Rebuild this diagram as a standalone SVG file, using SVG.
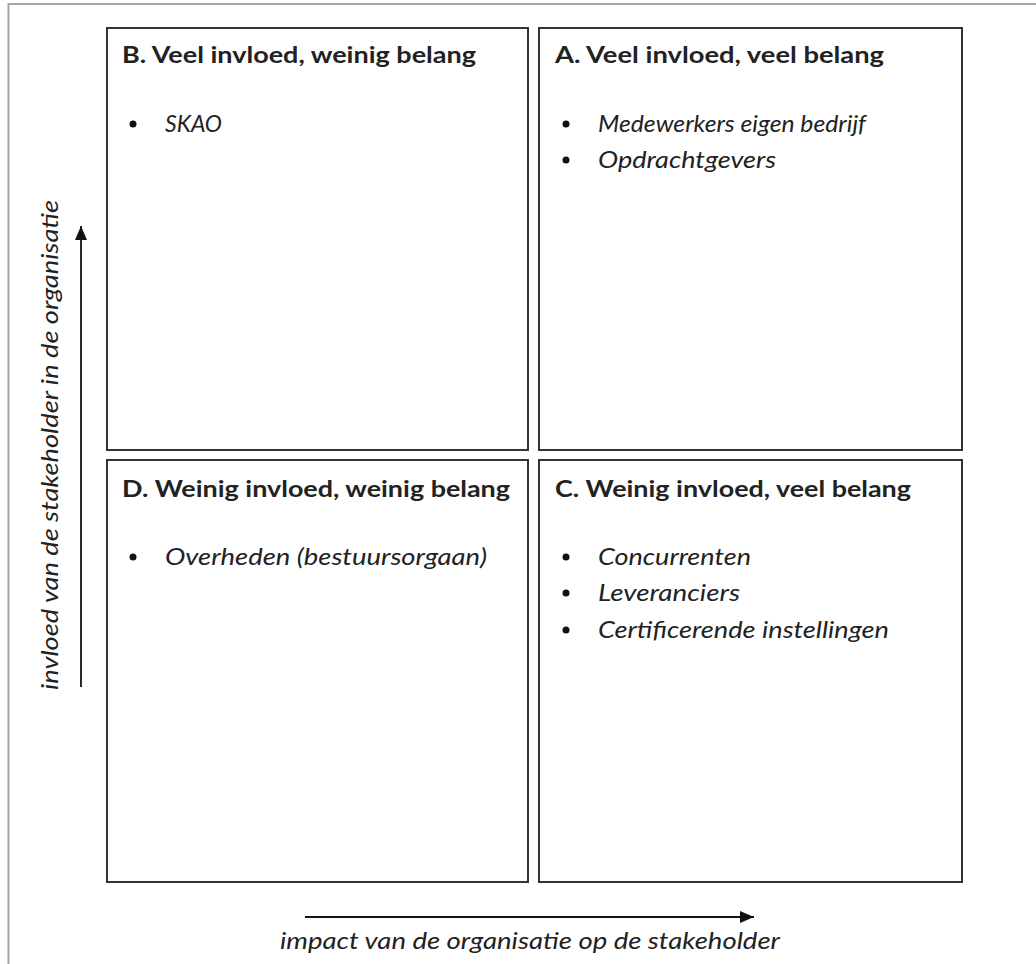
<svg xmlns="http://www.w3.org/2000/svg" width="1036" height="964" viewBox="0 0 1036 964">
<style>
.frame{fill:none;stroke:#a6a6a6;stroke-width:2}
.box{fill:#fff;stroke:#333;stroke-width:2}
.t{font-family:Lato,"Open Sans","Liberation Sans",sans-serif;font-size:23px;fill:#222}
.h{font-weight:bold}
.i{font-style:italic}
.ax{stroke:#111;stroke-width:1.8;fill:none}
</style>
<defs>
<marker id="arr" markerWidth="14" markerHeight="12" refX="14" refY="6" orient="auto" markerUnits="userSpaceOnUse" viewBox="0 0 14 12">
<path d="M0,0 L14,6 L0,12 Z" fill="#111"/>
</marker>
</defs>
<rect width="1036" height="964" fill="#fff"/>
<path class="frame" d="M8.5,964 V4 H1036"/>
<g id="nodeB">
<rect class="box" x="107" y="28" width="421" height="422"/>
<text class="t h" x="122" y="63" textLength="354" lengthAdjust="spacingAndGlyphs">B. Veel invloed, weinig belang</text>
<circle cx="133" cy="124" r="3.5" fill="#111"/>
<text class="t i" x="165" y="132" textLength="57" lengthAdjust="spacingAndGlyphs">SKAO</text>
</g>
<g id="nodeA">
<rect class="box" x="539" y="28" width="423" height="422"/>
<text class="t h" x="555" y="63" textLength="329" lengthAdjust="spacingAndGlyphs">A. Veel invloed, veel belang</text>
<circle cx="566" cy="124" r="3.5" fill="#111"/>
<text class="t i" x="598" y="132" textLength="268" lengthAdjust="spacingAndGlyphs">Medewerkers eigen bedrijf</text>
<circle cx="566" cy="160" r="3.5" fill="#111"/>
<text class="t i" x="598" y="168" textLength="178" lengthAdjust="spacingAndGlyphs">Opdrachtgevers</text>
</g>
<g id="nodeD">
<rect class="box" x="107" y="460" width="421" height="422"/>
<text class="t h" x="122" y="497" textLength="388" lengthAdjust="spacingAndGlyphs">D. Weinig invloed, weinig belang</text>
<circle cx="133" cy="557" r="3.5" fill="#111"/>
<text class="t i" x="165" y="565" textLength="322" lengthAdjust="spacingAndGlyphs">Overheden (bestuursorgaan)</text>
</g>
<g id="nodeC">
<rect class="box" x="539" y="460" width="423" height="422"/>
<text class="t h" x="555" y="497" textLength="356" lengthAdjust="spacingAndGlyphs">C. Weinig invloed, veel belang</text>
<circle cx="566" cy="557" r="3.5" fill="#111"/>
<text class="t i" x="598" y="565" textLength="153" lengthAdjust="spacingAndGlyphs">Concurrenten</text>
<circle cx="566" cy="593" r="3.5" fill="#111"/>
<text class="t i" x="598" y="601" textLength="142" lengthAdjust="spacingAndGlyphs">Leveranciers</text>
<circle cx="566" cy="630" r="3.5" fill="#111"/>
<text class="t i" x="598" y="638" textLength="291" lengthAdjust="spacingAndGlyphs">Certificerende instellingen</text>
</g>
<g id="connectors">
<line class="ax" x1="81" y1="687" x2="81" y2="226" marker-end="url(#arr)"/>
<line class="ax" x1="305" y1="917" x2="754" y2="917" marker-end="url(#arr)"/>
</g>
<g id="labels">
<text class="t i" x="0" y="0" transform="translate(58,445) rotate(-90)" text-anchor="middle" textLength="490" lengthAdjust="spacingAndGlyphs">invloed van de stakeholder in de organisatie</text>
<text class="t i" x="530" y="949" text-anchor="middle" textLength="500" lengthAdjust="spacingAndGlyphs">impact van de organisatie op de stakeholder</text>
</g>
</svg>
